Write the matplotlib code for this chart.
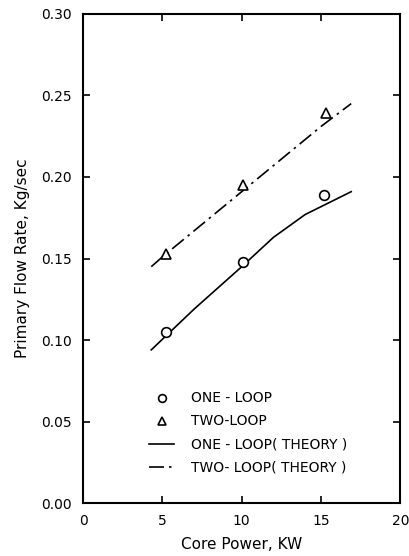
import matplotlib
matplotlib.use('Agg')
import matplotlib.pyplot as plt

# measured points
one_x = [5.2, 10.1, 15.2]
one_y = [0.105, 0.148, 0.189]
two_x = [5.2, 10.1, 15.3]
two_y = [0.153, 0.195, 0.239]

# theory curves
one_th_x = [4.3, 7.0, 10.0, 12.0, 14.0, 16.9]
one_th_y = [0.094, 0.119, 0.145, 0.163, 0.177, 0.191]
two_th_x = [4.3, 5.0, 10.0, 15.0, 16.9]
two_th_y = [0.145, 0.151, 0.191, 0.231, 0.245]

xticks = [0, 5, 10, 15, 20]
yticks = [0.00, 0.05, 0.10, 0.15, 0.20, 0.25, 0.30]

plt.rcParams['font.family'] = ['DejaVu Sans']
fig = plt.figure(figsize=(4.09, 5.56), dpi=100)
ax = fig.add_axes([0.203, 0.095, 0.776, 0.880])

ax.plot(one_x, one_y, 'o', mfc='white', mec='black', ms=7, mew=1.2,
        label='ONE - LOOP', zorder=3)
ax.plot(two_x, two_y, '^', mfc='white', mec='black', ms=7, mew=1.2,
        label='TWO-LOOP', zorder=3)
ax.plot(one_th_x, one_th_y, '-', color='black', lw=1.2,
        label='ONE - LOOP( THEORY )')
ax.plot(two_th_x, two_th_y, color='black', lw=1.2,
        linestyle=(0, (9, 3, 1.5, 3)), label='TWO- LOOP( THEORY )')

ax.set_xlim(0, 20)
ax.set_ylim(0, 0.30)
ax.set_xticks(xticks)
ax.set_yticks(yticks)
ax.set_yticklabels([f'{v:.2f}' for v in yticks])
ax.tick_params(direction='in', top=True, right=True, length=5, width=1.2,
               labelsize=10, pad=8)
for s in ax.spines.values():
    s.set_linewidth(1.5)

ax.set_xlabel('Core Power, KW', fontsize=11, labelpad=6)
ax.set_ylabel('Primary Flow Rate, Kg/sec', fontsize=11, labelpad=8)

ax.legend(loc='lower left', bbox_to_anchor=(0.17, 0.033), frameon=False,
          fontsize=10, handlelength=1.8, handletextpad=1.2, labelspacing=0.65,
          markerscale=0.8)

fig.savefig('out.png', dpi=100)
